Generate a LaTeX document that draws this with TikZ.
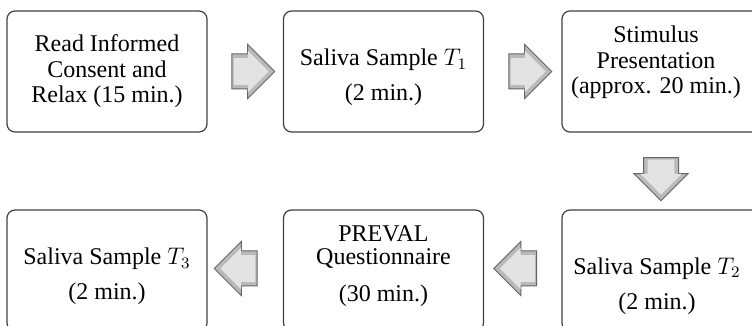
\documentclass[tikz,border=0pt]{standalone}
\usepackage{fontspec}
\setmainfont{Liberation Serif}
\usetikzlibrary{shapes.arrows}

\begin{document}
\begin{tikzpicture}[x=0.5pt,y=-0.5pt,
    stepbox/.style={draw=black!75,line width=0.6pt,rounded corners=4pt,
      minimum width=100pt,minimum height=60.5pt,inner sep=0pt},
    steptext/.style={align=center,font=\fontsize{12}{12.75}\selectfont,inner sep=0pt},
    blockarrow/.style={single arrow,draw=black!60,line width=0.5pt,fill=gray!55,
      minimum height=21.5pt,single arrow head extend=4.75pt,
      inner xsep=0pt,inner ysep=8.5pt,rotate=#1},
    arrowface/.style={single arrow,fill=gray!22,minimum height=17.5pt,
      single arrow head extend=3.75pt,
      inner xsep=0pt,inner ysep=6.5pt,rotate=#1}]
    \useasboundingbox (0,0) rectangle (752,326);

    % top row
    \node[stepbox] (read) at (107,71.5) {};
    \node[stepbox] (t1) at (383.5,71.5) {};
    \node[stepbox] (stim) at (662,71.5) {};
    % bottom row
    \node[stepbox] (t3) at (107,270.5) {};
    \node[stepbox] (preval) at (383.5,270.5) {};
    \node[stepbox] (t2) at (662,270.5) {};

    \node[steptext] (readtxt) at (107,71.5) {Read Informed\\Consent and\\Relax (15 min.)};
    \node[steptext] (t1txt) at (383.5,77.5) {Saliva Sample $T_1$\\[4.75pt](2 min.)};
    \node[steptext] (stimtxt) at (656,62.5) {Stimulus\\Presentation\\(approx. 20 min.)};
    \node[steptext] (t3txt) at (107,276.5) {Saliva Sample $T_3$\\[4.75pt](2 min.)};
    \node[steptext] (prevaltxt) at (383.5,266) {PREVAL\\[-1pt]Questionnaire\\[5.75pt](30 min.)};
    \node[steptext] (t2txt) at (657,286) {Saliva Sample $T_2$\\[4.75pt](2 min.)};

    % block arrows
    \node[blockarrow=0] (readtot1) at (244.5,71.5) {};
    \node[arrowface=0] (readtot1face) at (244.5,71.5) {};
    \node[blockarrow=0] (t1tostim) at (521.5,71.5) {};
    \node[arrowface=0] (t1tostimface) at (521.5,71.5) {};
    \node[blockarrow=270] (stimtot2) at (661,170.5) {};
    \node[arrowface=270] (stimtot2face) at (661,170.5) {};
    \node[blockarrow=180] (t2topreval) at (524,268.5) {};
    \node[arrowface=180] (t2toprevalface) at (524,268.5) {};
    \node[blockarrow=180] (prevaltot3) at (244.5,268.5) {};
    \node[arrowface=180] (prevaltot3face) at (244.5,268.5) {};
\end{tikzpicture}
\end{document}
